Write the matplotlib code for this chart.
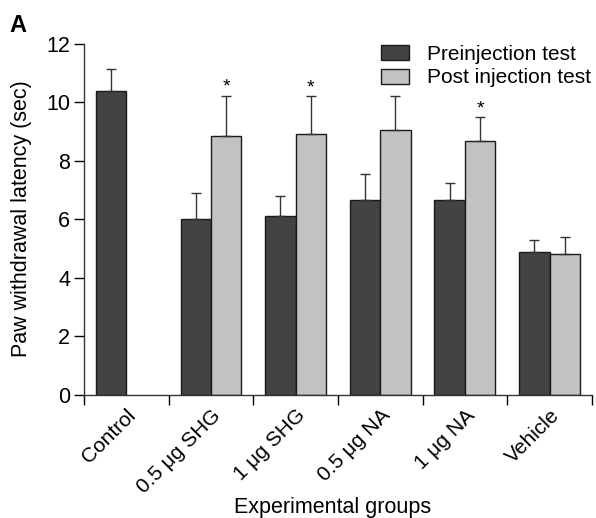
import matplotlib
matplotlib.use("Agg")
import matplotlib.pyplot as plt
import numpy as np

plt.rcParams['font.family'] = ['Liberation Sans', 'DejaVu Sans']

groups = ["Control", "0.5 μg SHG", "1 μg SHG", "0.5 μg NA", "1 μg NA", "Vehicle"]
pre_mean = [10.37, 6.02, 6.09, 6.67, 6.64, 4.88]
pre_err = [0.76, 0.86, 0.71, 0.87, 0.59, 0.40]
post_mean = [np.nan, 8.84, 8.90, 9.05, 8.66, 4.80]
post_err = [np.nan, 1.37, 1.29, 1.16, 0.83, 0.59]
post_sig = [False, True, True, False, True, False]

dark = "#434343"
light = "#c2c2c2"

fig = plt.figure(figsize=(5.96, 5.18), dpi=100)
ax = fig.add_axes([0.141, 0.238, 0.852, 0.678])

x = np.arange(len(groups))
w = 0.36
ax.bar(x - w / 2, pre_mean, w, color=dark, edgecolor="#1a1a1a", linewidth=1.0,
       yerr=[np.zeros(len(x)), pre_err], error_kw=dict(ecolor="#333333", elinewidth=1.0, capsize=3.8, capthick=1.0),
       label="Preinjection test", zorder=2)
pm = np.array(post_mean, dtype=float)
pe = np.array(post_err, dtype=float)
valid = ~np.isnan(pm)
ax.bar(x[valid] + w / 2, pm[valid], w, color=light, edgecolor="#1a1a1a", linewidth=1.0,
       yerr=[np.zeros(valid.sum()), pe[valid]], error_kw=dict(ecolor="#333333", elinewidth=1.0, capsize=3.8, capthick=1.0),
       label="Post injection test", zorder=2)

for xi, m, e, s in zip(x, post_mean, post_err, post_sig):
    if s:
        ax.annotate("*", (xi + w / 2, m + e), xytext=(0, 0), textcoords="offset points",
                    ha="center", va="bottom", fontsize=14)

ax.set_xlim(-0.5, len(groups) - 0.5)
ax.set_ylim(0, 12)
ax.set_yticks([0, 2, 4, 6, 8, 10, 12])
ax.set_xticks(np.arange(len(groups) + 1) - 0.5)
ax.set_xticklabels([])
ax.set_xticks(x, minor=True)
ax.set_xticklabels(groups, minor=True, rotation=45, ha="right", rotation_mode="anchor", fontsize=15)
ax.tick_params(axis="x", which="minor", length=0, pad=8)
ax.tick_params(axis="x", which="major", length=7, direction="out", width=1.0)
ax.tick_params(axis="y", length=7, width=1.0, labelsize=15.5, pad=3)
for sp in ["top", "right"]:
    ax.spines[sp].set_visible(False)
for sp in ["left", "bottom"]:
    ax.spines[sp].set_linewidth(1.0)
    ax.spines[sp].set_color("#333333")

ax.set_ylabel("Paw withdrawal latency (sec)", fontsize=15.5, labelpad=10)
ax.set_xlabel("Experimental groups", fontsize=15.5)
ax.xaxis.set_label_coords(0.49, -0.292)

leg = ax.legend(loc="upper right", bbox_to_anchor=(1.015, 1.02), frameon=False, fontsize=15,
                handlelength=1.35, handleheight=0.75, handletextpad=0.85, labelspacing=0.22, borderaxespad=0)

fig.text(0.016, 0.95, "A", fontsize=17, fontweight="bold", ha="left", va="center")

fig.savefig("out.png", dpi=100)
